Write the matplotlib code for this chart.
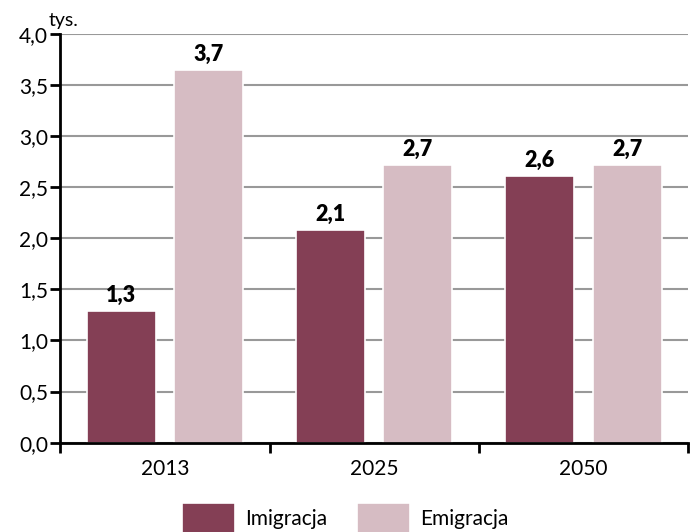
import matplotlib.pyplot as plt
import numpy as np
from matplotlib.ticker import FuncFormatter

plt.rcParams['font.family'] = ['Lato', 'DejaVu Sans']

years = ['2013', '2025', '2050']
imigracja = [1.29, 2.08, 2.61]
emigracja = [3.65, 2.72, 2.72]
imigracja_labels = ['1,3', '2,1', '2,6']
emigracja_labels = ['3,7', '2,7', '2,7']

col_imig = '#843F55'
col_emig = '#D6BCC3'

fig = plt.figure(figsize=(6.95, 5.32), dpi=100)
ax = fig.add_axes([0.087, 0.168, 0.903, 0.768])

x = np.arange(len(years))
w = 0.33
off = 0.209

b1 = ax.bar(x - off, imigracja, w, color=col_imig, edgecolor='white', linewidth=1.2,
            zorder=3, label='Imigracja')
b2 = ax.bar(x + off, emigracja, w, color=col_emig, edgecolor='white', linewidth=1.2,
            zorder=3, label='Emigracja')

# value labels above bars
for rects, labels in [(b1, imigracja_labels), (b2, emigracja_labels)]:
    for r, lab in zip(rects, labels):
        ax.text(r.get_x() + r.get_width() / 2, r.get_height() + 0.05, lab,
                ha='center', va='bottom', fontsize=15.5, fontweight='heavy', zorder=4)

ax.set_ylim(0, 4.0)
ax.set_xlim(-0.5, 2.5)
ax.set_yticks(np.arange(0, 4.01, 0.5))
ax.yaxis.set_major_formatter(FuncFormatter(lambda v, p: f'{v:.1f}'.replace('.', ',')))
ax.grid(axis='y', color='#999999', linewidth=1.5, zorder=0)
ax.set_axisbelow(True)

# category boundary ticks and centered labels
ax.set_xticks([-0.5, 0.5, 1.5, 2.5])
ax.set_xticklabels([])
ax.set_xticks(x, minor=True)
ax.set_xticklabels(years, minor=True)
ax.tick_params(axis='x', which='major', length=7, width=2, direction='out')
ax.tick_params(axis='x', which='minor', length=0, pad=12, labelsize=15)
ax.tick_params(axis='y', length=7, width=2, direction='out', labelsize=15, pad=2)

for s in ['top', 'right']:
    ax.spines[s].set_visible(False)
for s in ['left', 'bottom']:
    ax.spines[s].set_linewidth(2)
    ax.spines[s].set_zorder(5)

fig.text(0.070, 0.945, 'tys.', fontsize=14, ha='left', va='bottom')

fig.legend(handles=[b1, b2], loc='center', bbox_to_anchor=(0.497, 0.026), ncol=2,
           frameon=False, fontsize=15, handlelength=2.55, handleheight=1.9,
           handletextpad=0.5, columnspacing=1.4)

fig.savefig('out.png', dpi=100)
